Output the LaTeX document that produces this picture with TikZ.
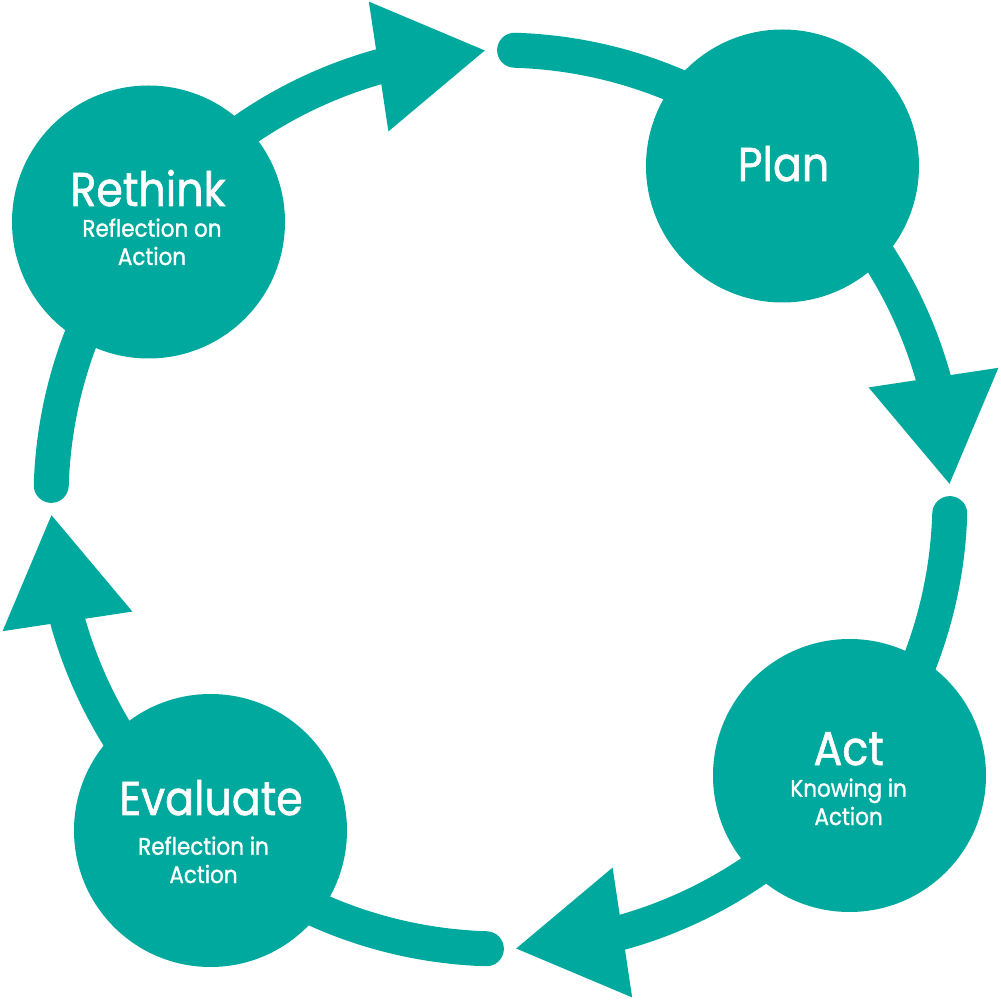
\documentclass[tikz,border=0pt]{standalone}
\usepackage{fontspec}
\setmainfont{Poppins}[FakeStretch=0.9, FakeBold=1.2]
\usetikzlibrary{arrows.meta}
\usetikzlibrary{bending}
\definecolor{cycleteal}{HTML}{00A99D}

\begin{document}
\begin{tikzpicture}[
    font=\fontsize{13.5}{16}\selectfont
]
\tikzset{
    stage/.style = {circle, fill=cycleteal, minimum size=2.73cm, inner sep=0pt},
    stagetitle/.style = {anchor=base, text=white, inner sep=0pt, font=\fontsize{13.5}{16}\selectfont},
    stagesub/.style = {anchor=base, text=white, inner sep=0pt, align=center, font=\fontsize{6.8}{8.05}\selectfont},
    cyclearc/.style = {line width=0.35cm, cycleteal, line cap=round, -{Triangle[flex, length=1.09cm, width=1.23cm]}}
}
\useasboundingbox (0,0) rectangle (10.01,10.01);
\coordinate (c) at (5.005,5.015);
% arcs of the cycle
\foreach \q in {180,90,0,-90}
    \draw[cyclearc] ([shift={(\q-1.8:4.495)}]c) arc[start angle=\q-1.8, end angle=\q-88.2, radius=4.495];
% stages
\node[stage] at (1.485,7.79) (rethink) {};
\node[stage] at (7.825,8.35) (plan) {};
\node[stage] at (8.495,2.255) (act) {};
\node[stage] at (2.105,1.705) (evaluate) {};
\node[stagetitle] at (1.48,7.95) (rethinkt) {Rethink};
\node[stagesub] at (1.52,7.36) (rethinks) {Reflection on\\Action};
\node[stagetitle] at (7.835,8.20) (plant) {Plan};
\node[stagetitle] at (8.487,2.36) (actt) {Act};
\node[stagesub] at (8.486,1.76) (acts) {Knowing in\\Action};
\node[stagetitle] at (2.11,1.86) (evaluatet) {Evaluate};
\node[stagesub] at (2.035,1.18) (evaluates) {Reflection in\\Action};
\end{tikzpicture}
\end{document}
